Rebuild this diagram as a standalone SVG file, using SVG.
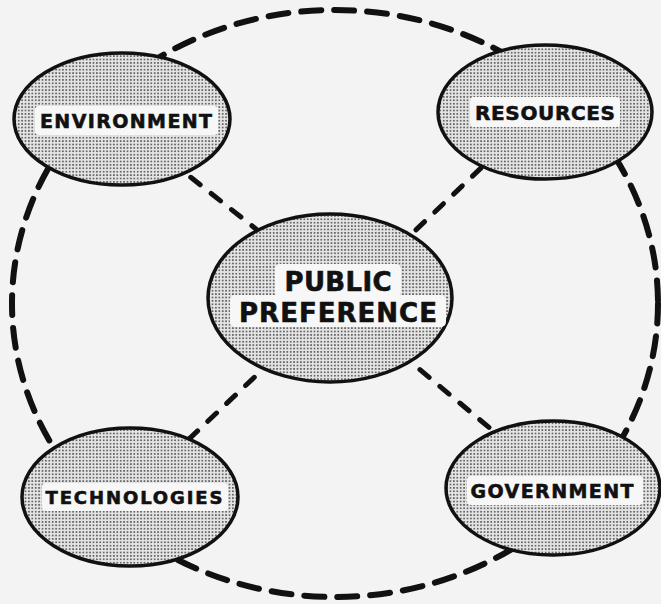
<svg xmlns="http://www.w3.org/2000/svg" width="661" height="604" viewBox="0 0 661 604">
<defs>
<pattern id="dots" width="3.4" height="3.4" patternUnits="userSpaceOnUse">
<rect width="3.4" height="3.4" fill="#e4e4e4"/>
<circle cx="1.7" cy="1.7" r="0.95" fill="#4a4a4a"/>
</pattern>
</defs>
<style>
.node{fill:url(#dots);stroke:#111;stroke-width:3.5}
.lbl{fill:#f7f7f7}
.t{font-family:"DejaVu Sans","Liberation Sans",sans-serif;font-weight:bold;fill:#111;stroke:#111;stroke-width:0.6;text-anchor:middle}
.big{fill:none;stroke:#111;stroke-width:6;stroke-dasharray:20 13;stroke-linecap:round}
.spoke{fill:none;stroke:#111;stroke-width:5;stroke-dasharray:12 14;stroke-linecap:round}
</style>
<rect width="661" height="604" fill="#f3f3f3"/>
<g id="connectors">
<ellipse class="big" cx="335" cy="303.5" rx="323" ry="293.5"/>
<line class="spoke" x1="150" y1="145" x2="280" y2="248"/>
<line class="spoke" x1="500" y1="150" x2="400" y2="245"/>
<line class="spoke" x1="170" y1="457" x2="280" y2="353"/>
<line class="spoke" x1="400" y1="353" x2="510" y2="445"/>
</g>
<g id="environment">
<ellipse class="node" cx="122" cy="119" rx="108" ry="66"/>
<rect class="lbl" x="35" y="106" width="183" height="29" rx="4"/>
<text class="t" x="126" y="128" font-size="19" textLength="172" lengthAdjust="spacing">ENVIRONMENT</text>
</g>
<g id="resources">
<ellipse class="node" cx="545" cy="112" rx="107" ry="67"/>
<rect class="lbl" x="470" y="97" width="150" height="30" rx="4"/>
<text class="t" x="545" y="120" font-size="20" textLength="140" lengthAdjust="spacing">RESOURCES</text>
</g>
<g id="public-preference">
<ellipse class="node" cx="330" cy="298" rx="122" ry="84"/>
<rect class="lbl" x="275" y="264" width="126" height="33" rx="5"/>
<rect class="lbl" x="230" y="295" width="216" height="32" rx="5"/>
<text class="t" x="338" y="291" font-size="26" textLength="107" lengthAdjust="spacing">PUBLIC</text>
<text class="t" x="338" y="322" font-size="26" textLength="198" lengthAdjust="spacing">PREFERENCE</text>
</g>
<g id="technologies">
<ellipse class="node" cx="130" cy="497" rx="108" ry="69"/>
<rect class="lbl" x="42" y="483" width="186" height="28" rx="4"/>
<text class="t" x="134" y="504" font-size="18" textLength="177" lengthAdjust="spacing">TECHNOLOGIES</text>
</g>
<g id="government">
<ellipse class="node" cx="553" cy="488" rx="107" ry="67"/>
<rect class="lbl" x="467" y="476" width="176" height="29" rx="4"/>
<text class="t" x="552" y="498" font-size="19" textLength="163" lengthAdjust="spacing">GOVERNMENT</text>
</g>
</svg>
